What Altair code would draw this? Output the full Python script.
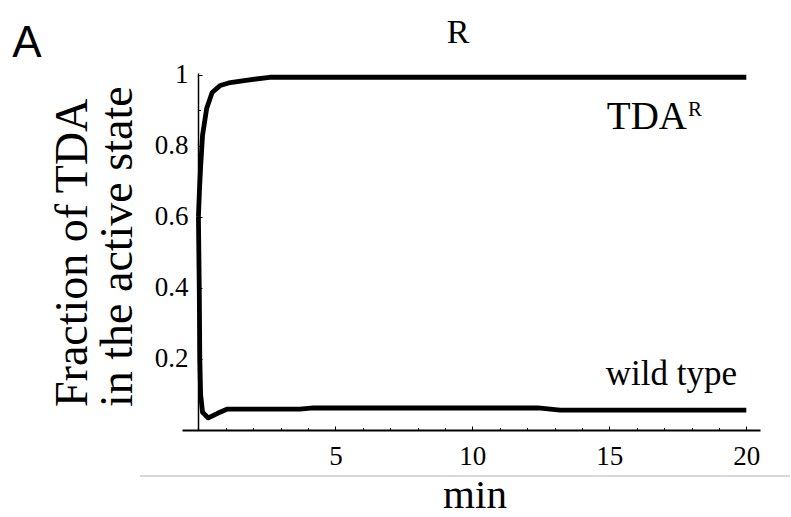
import altair as alt
import pandas as pd

# ---- data ----
tda_r_time = [0.0, 0.04, 0.08, 0.15, 0.3, 0.5, 0.8, 1.1, 1.8, 2.6, 5.0, 10.0, 15.0, 20.0]
tda_r_frac = [0.60, 0.68, 0.74, 0.83, 0.905, 0.95, 0.97, 0.977, 0.985, 0.993, 0.993, 0.993, 0.993, 0.993]

wild_time = [0.0, 0.03, 0.05, 0.08, 0.15, 0.36, 0.7, 1.06, 3.7, 4.2, 8.0, 12.4, 13.2, 16.0, 20.0]
wild_frac = [0.60, 0.40, 0.20, 0.10, 0.05, 0.034, 0.047, 0.059, 0.059, 0.062, 0.062, 0.062, 0.056, 0.056, 0.056]

x_tick_labels = [5, 10, 15, 20]
x_minor_ticks = list(range(0, 21))
y_tick_labels = [0.2, 0.4, 0.6, 0.8, 1.0]
y_minor_ticks = [round(0.1 * i, 1) for i in range(1, 11)]

panel_letter = ["A"]
panel_title = ["R"]
x_title = ["min"]
y_title_lines = ["Fraction of TDA", "in the active state"]
label_tda = ["TDA"]
label_tda_sup = ["R"]
label_wild = ["wild type"]

SERIF = "Liberation Serif"
SANS = "Liberation Sans"

rows = []
for i, (t, v) in enumerate(zip(tda_r_time, tda_r_frac)):
    rows.append({"series": "TDA_R", "t": t, "v": v, "idx": i})
for i, (t, v) in enumerate(zip(wild_time, wild_frac)):
    rows.append({"series": "wild", "t": t, "v": v, "idx": i})
df = pd.DataFrame(rows)

W, H = 578, 357
X_DOMAIN = [-0.6, 20.5]
Y_DOMAIN = [0, 1.005]

lines = alt.Chart(df).mark_line(color="black", strokeWidth=4.8, strokeJoin="round").encode(
    x=alt.X("t:Q", scale=alt.Scale(domain=X_DOMAIN, nice=False, zero=False), axis=alt.Axis(
        orient="bottom", values=x_tick_labels, title=None, tickSize=0,
        labelFont=SERIF, labelFontSize=27, labelColor="black", labelPadding=13,
        domainColor="black", domainWidth=2, grid=False, labelFlush=False)),
    y=alt.Y("v:Q", scale=alt.Scale(domain=Y_DOMAIN, nice=False, zero=False), axis=alt.Axis(
        orient="left", offset=-16, values=y_tick_labels, format=".1~f", title=None,
        tickSize=0, labelFont=SERIF, labelFontSize=27, labelColor="black",
        labelPadding=10, domainColor="black", domainWidth=1.5, grid=False,
        labelFlush=False)),
    detail="series:N",
    order="idx:Q",
)

ticks = alt.Chart(df).mark_point(opacity=0).encode(
    x=alt.X("t:Q", scale=alt.Scale(domain=X_DOMAIN, nice=False, zero=False), axis=alt.Axis(
        orient="top", offset=-H, values=x_minor_ticks, labels=False, domain=False,
        title=None, grid=False, tickColor="black", tickWidth=1,
        tickSize={"condition": {"test": "datum.value % 5 === 0", "value": 4}, "value": 2.5})),
    y=alt.Y("v:Q", scale=alt.Scale(domain=Y_DOMAIN, nice=False, zero=False), axis=alt.Axis(
        orient="right", offset=-(W - 16), values=y_minor_ticks, labels=False,
        domain=False, title=None, grid=False, tickColor="black", tickWidth=1,
        tickSize={"condition": {"test": "round(datum.value*10) % 2 === 0", "value": 4}, "value": 2.5})),
)

gray = alt.Chart(pd.DataFrame({"a": [0]})).mark_rule(color="#d9d9d9", strokeWidth=2).encode(
    x=alt.value(-42), x2=alt.value(608), y=alt.value(403)
)


def text_layer(values, x, y, size, font=SERIF, align="center", angle=0, baseline="alphabetic"):
    return alt.Chart(pd.DataFrame({"label": values})).mark_text(
        font=font, fontSize=size, color="black", align=align, baseline=baseline, angle=angle
    ).encode(x=alt.value(x), y=alt.value(y), text="label:N")


texts = [
    text_layer(panel_letter, -155, -16, 44, font=SANS),
    text_layer(panel_title, 276, -30, 34),
    text_layer(x_title, 293, 435, 41),
    text_layer(label_tda, 505, 56, 39, align="right"),
    text_layer(label_tda_sup, 506, 43, 21, align="left"),
    text_layer(label_wild, 555, 312, 35, align="right"),
    text_layer([y_title_lines[0]], -95, 334, 46, align="left", angle=270),
    text_layer([y_title_lines[1]], -50, 334, 46, align="left", angle=270),
]

chart = alt.layer(lines, ticks, gray, *texts).resolve_scale(
    x="independent", y="independent"
).properties(
    width=W, height=H,
    autosize=alt.AutoSizeParams(type="none"),
    padding={"left": 182, "top": 73, "right": 31, "bottom": 87},
    background="white",
).configure_view(stroke=None)

chart.save("out.html", embed_options={"renderer": "svg", "actions": False})
